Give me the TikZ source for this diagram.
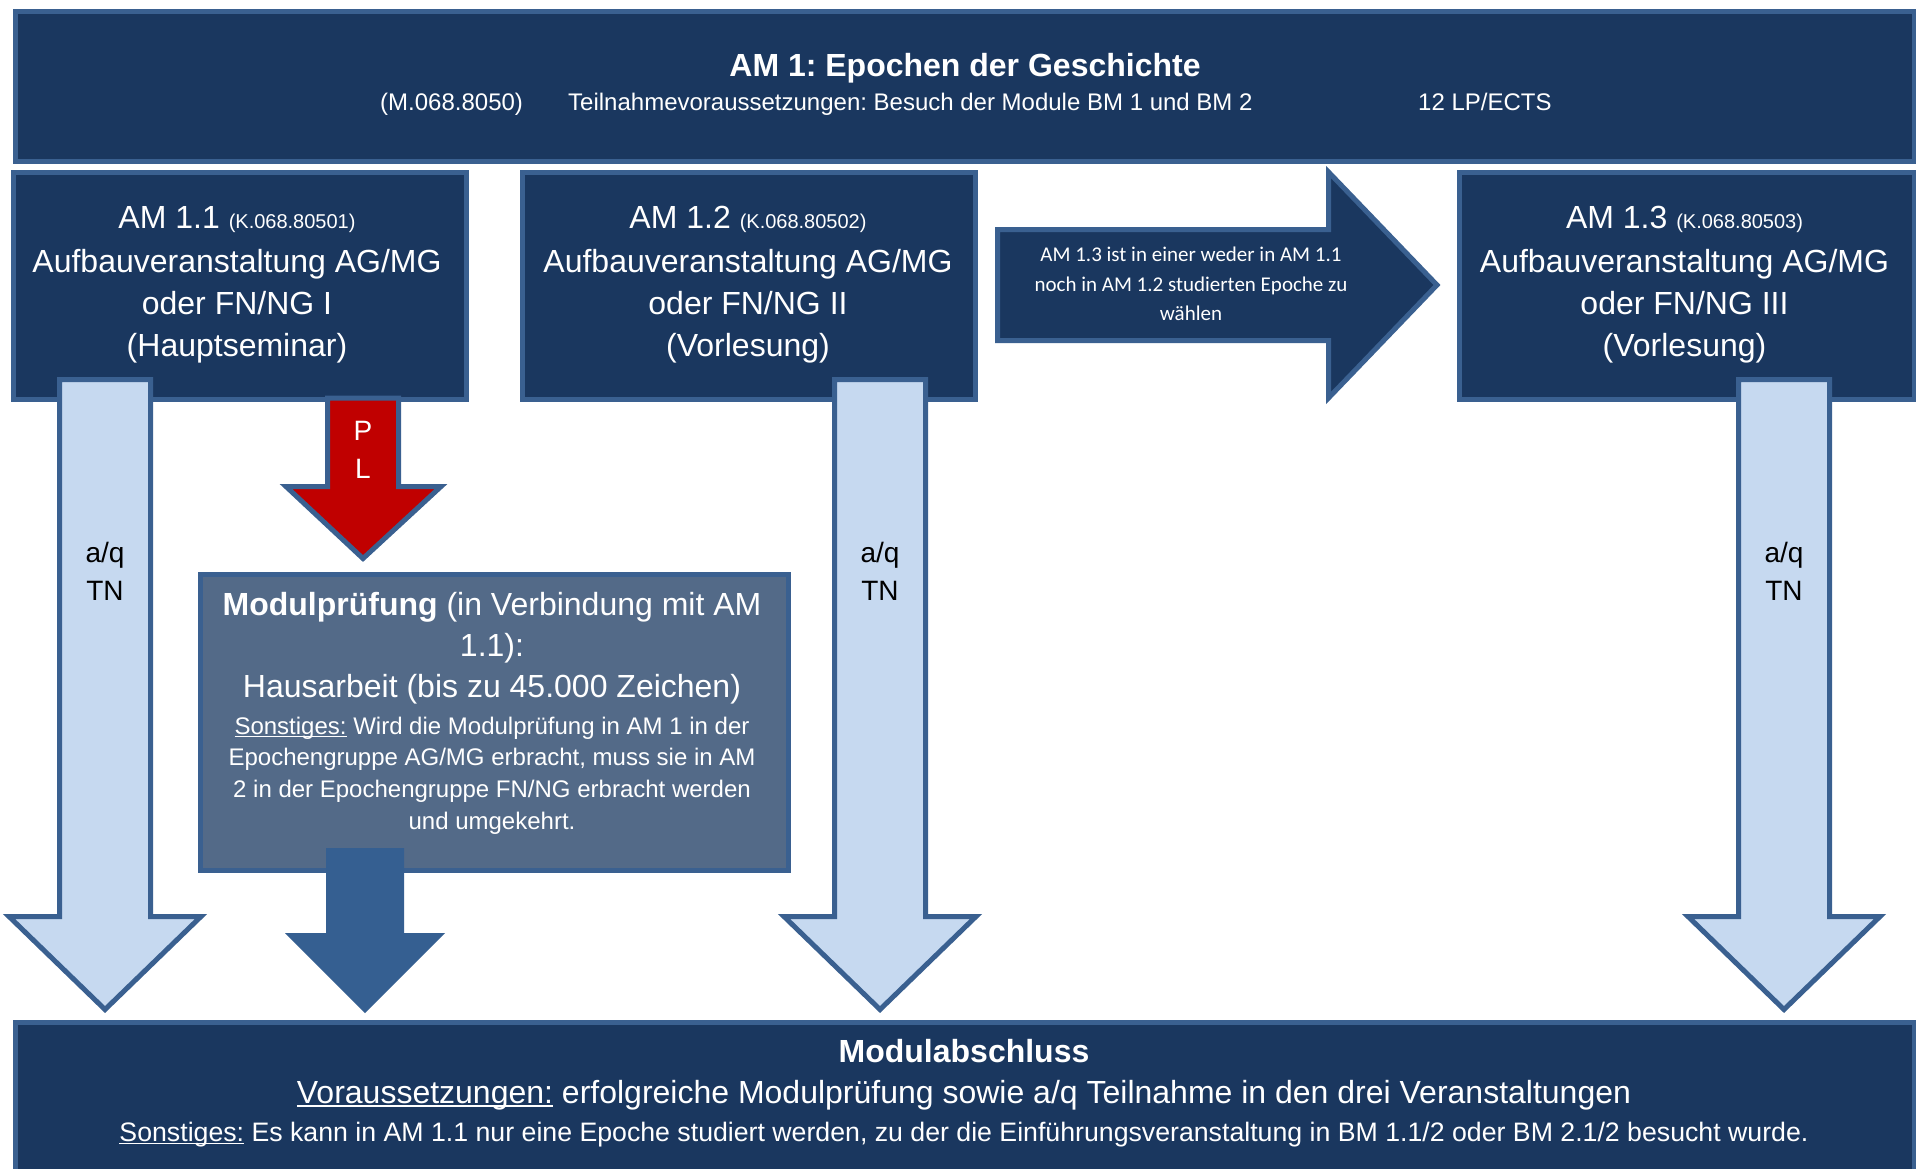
\documentclass[tikz,border=0pt]{standalone}
\usepackage{fontspec}
\setmainfont{Liberation Sans}
\newfontfamily\calib{Carlito}
\frenchspacing
\newsavebox{\ulbox}
\newcommand{\myul}[1]{\sbox{\ulbox}{#1}\rlap{\rule[-0.13em]{\wd\ulbox}{0.06em}}\usebox{\ulbox}}
\definecolor{dark}{HTML}{1A375F}
\definecolor{bord}{HTML}{3A6090}
\definecolor{slate}{HTML}{536A88}
\definecolor{midblue}{HTML}{355F91}
\definecolor{lightblue}{HTML}{C6D9F0}
\definecolor{redfill}{HTML}{C00000}
\usetikzlibrary{calc}
\tikzset{
  box/.style={draw=bord, fill=dark, line width=5pt, rectangle, anchor=north west, inner sep=0pt},
  blockarrow/.style={draw=bord, line width=5pt, line join=miter, miter limit=10},
  lbl/.style={text=white, inner sep=0pt, anchor=base},
  blk/.style={text=black, inner sep=0pt, anchor=base},
  fbig/.style={font=\fontsize{32}{38}\selectfont},
  fbigb/.style={font=\fontsize{32}{38}\selectfont\bfseries},
  fmid/.style={font=\fontsize{24}{29}\selectfont},
  fbot/.style={font=\fontsize{26.7}{32}\selectfont},
  fsq/.style={font=\fontsize{28}{33}\selectfont},
  fcal/.style={font=\calib\fontsize{21}{26}\selectfont},
}
\newcommand{\kcode}[1]{{\fontsize{20}{24}\selectfont #1}}
\newcommand{\downarrowshape}[2]{% #1 name prefix, #2 center x
  \coordinate (#1top) at (#2,379.5);
  \coordinate (#1tip) at (#2,1009.5);
  \draw[blockarrow, fill=lightblue]
    ($(#1top)+(-45.5,0)$) -- ($(#1top)+(45.5,0)$) -- (#2+45.5,916.5) -- (#2+96,916.5)
    -- (#1tip) -- (#2-96,916.5) -- (#2-45.5,916.5) -- cycle;
}
\begin{document}
\begin{tikzpicture}[x=1pt,y=-1pt]
\useasboundingbox (0,0) rectangle (1916,1169);
\fill[white] (0,0) rectangle (1916,1169);

% top box
\node[box, minimum width=1899pt, minimum height=150pt] (top) at (12.5,9.5) {};
\node[lbl, fbigb] (title) at (965,77) {AM 1: Epochen der Geschichte};
\node[lbl, fmid, anchor=base west] (mcode) at (380,111) {(M.068.8050)};
\node[lbl, fmid, anchor=base west] (req) at (568,111) {Teilnahmevoraussetzungen: Besuch der Module BM 1 und BM 2};
\node[lbl, fmid, anchor=base west] (lp) at (1418,111) {12 LP/ECTS};

% course boxes
\node[box, minimum width=453pt, minimum height=226pt] (am11) at (10.5,170.5) {};
\node[box, minimum width=453pt, minimum height=226pt] (am12) at (519.5,170.5) {};
\node[box, minimum width=455pt, minimum height=226pt] (am13) at (1456.5,170.5) {};

\node[lbl, fbig] (a1l1) at (237,229) {AM 1.1 \kcode{(K.068.80501)}};
\node[lbl, fbig] (a1l2) at (237,272) {Aufbauveranstaltung AG/MG};
\node[lbl, fbig] (a1l3) at (237,314) {oder FN/NG I};
\node[lbl, fbig] (a1l4) at (237,356) {(Hauptseminar)};

\node[lbl, fbig] (a2l1) at (748,229) {AM 1.2 \kcode{(K.068.80502)}};
\node[lbl, fbig] (a2l2) at (748,272) {Aufbauveranstaltung AG/MG};
\node[lbl, fbig] (a2l3) at (748,314) {oder FN/NG II};
\node[lbl, fbig] (a2l4) at (748,356) {(Vorlesung)};

\node[lbl, fbig] (a3l1) at (1684.5,229) {AM 1.3 \kcode{(K.068.80503)}};
\node[lbl, fbig] (a3l2) at (1684.5,272) {Aufbauveranstaltung AG/MG};
\node[lbl, fbig] (a3l3) at (1684.5,314) {oder FN/NG III};
\node[lbl, fbig] (a3l4) at (1684.5,356) {(Vorlesung)};

% right block arrow
\draw[blockarrow, fill=dark] (997.5,229.5) -- (1328.5,229.5) -- (1328.5,172) -- (1437,285)
  -- (1328.5,398) -- (1328.5,340.5) -- (997.5,340.5) -- cycle;
\node[lbl, fcal] (r1) at (1191,261) {AM 1.3 ist in einer weder in AM 1.1};
\node[lbl, fcal] (r2) at (1191,291) {noch in AM 1.2 studierten Epoche zu};
\node[lbl, fcal] (r3) at (1191,320) {wählen};

% light blue down arrows
\downarrowshape{la}{105}
\downarrowshape{ma}{880}
\downarrowshape{ra}{1784}
\node[blk, fsq] (q1) at (105,562) {a/q};
\node[blk, fsq] (n1) at (105,600) {TN};
\node[blk, fsq] (q2) at (880,562) {a/q};
\node[blk, fsq] (n2) at (880,600) {TN};
\node[blk, fsq] (q3) at (1784,562) {a/q};
\node[blk, fsq] (n3) at (1784,600) {TN};

% red PL arrow
\draw[blockarrow, fill=redfill] (327.5,398) -- (398.5,398) -- (398.5,486.5) -- (441,486.5)
  -- (363,558.5) -- (286,486.5) -- (327.5,486.5) -- cycle;
\node[lbl, fsq] (pp) at (363,440) {P};
\node[lbl, fsq] (pl) at (363,478) {L};

% Modulpruefung box
\node[box, fill=slate, minimum width=588pt, minimum height=296pt] (mp) at (197.5,571.5) {};
\node[lbl, fbig] (m1) at (492,615) {\textbf{Modulprüfung} (in Verbindung mit AM};
\node[lbl, fbig] (m2) at (492,656) {1.1):};
\node[lbl, fbig] (m3) at (492,697) {Hausarbeit (bis zu 45.000 Zeichen)};
\node[lbl, fmid] (m4) at (492,734) {\myul{Sonstiges:} Wird die Modulprüfung in AM 1 in der};
\node[lbl, fmid] (m5) at (492,765) {Epochengruppe AG/MG erbracht, muss sie in AM};
\node[lbl, fmid] (m6) at (492,797) {2 in der Epochengruppe FN/NG erbracht werden};
\node[lbl, fmid] (m7) at (492,829) {und umgekehrt.};

% dark blue arrow below box
\fill[midblue] (326,848) -- (404,848) -- (404,933) -- (445,933) -- (365,1013)
  -- (285,933) -- (326,933) -- cycle;

% bottom box
\node[box, minimum width=1899pt, minimum height=170pt] (bot) at (12.5,1019.5) {};
\node[lbl, fbigb] (b1) at (964,1062) {Modulabschluss};
\node[lbl, fbig] (b2) at (964,1103) {\myul{Voraussetzungen:} erfolgreiche Modulprüfung sowie a/q Teilnahme in den drei Veranstaltungen};
\node[lbl, fbot] (b3) at (964,1141) {\myul{Sonstiges:} Es kann in AM 1.1 nur eine Epoche studiert werden, zu der die Einführungsveranstaltung in BM 1.1/2 oder BM 2.1/2 besucht wurde.};
\end{tikzpicture}
\end{document}
